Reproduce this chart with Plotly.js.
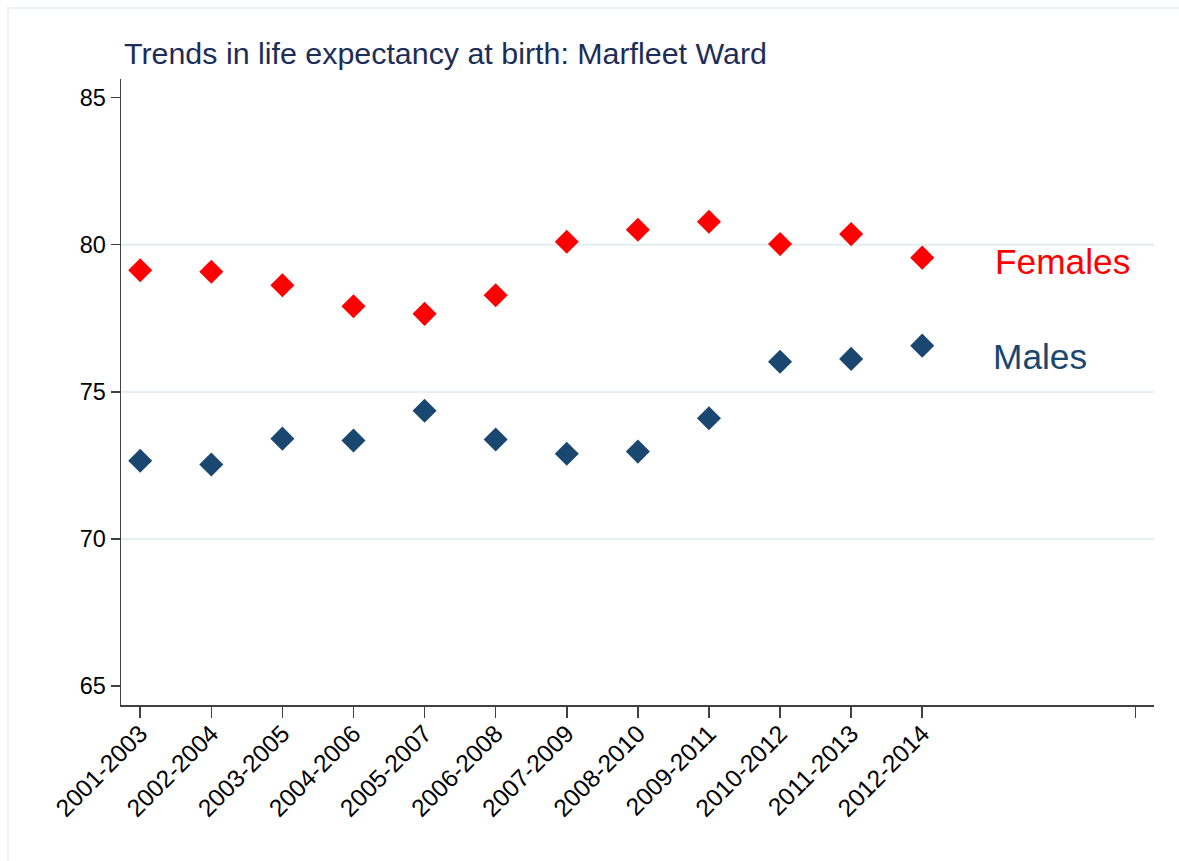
<!DOCTYPE html>
<html>
<head>
<meta charset="utf-8">
<script src="https://cdn.plot.ly/plotly-3.0.1.min.js"></script>
<style>
  html, body { margin: 0; padding: 0; background: #ffffff; overflow: hidden; }
  #wrap { position: relative; width: 1179px; height: 861px; }
  #chart { position: absolute; left: 0; top: 0; width: 1179px; height: 861px; }
  #frame { position: absolute; left: 7px; top: 7px; width: 1190px; height: 880px;
           border: 2px solid #EAF2F3; pointer-events: none; box-sizing: border-box; }
</style>
</head>
<body>
<div id="wrap">
  <div id="chart"></div>
  <div id="frame"></div>
</div>
<script>
// ---- data ----
const periods = ["2001-2003","2002-2004","2003-2005","2004-2006","2005-2007","2006-2008",
                 "2007-2009","2008-2010","2009-2011","2010-2012","2011-2013","2012-2014"];
const females = [79.13, 79.08, 78.62, 77.91, 77.65, 78.28, 80.10, 80.51, 80.78, 80.02, 80.36, 79.56];
const males   = [72.66, 72.53, 73.41, 73.35, 74.36, 73.38, 72.90, 72.97, 74.10, 76.02, 76.12, 76.57];
const seriesNames = ["Females", "Males"];
const yTicks = [65, 70, 75, 80, 85];
const gridVals = [70, 75, 80];
const chartTitle = "Trends in life expectancy at birth: Marfleet Ward";

// ---- build ----
const xIdx = periods.map((p, i) => i);
const extraTick = periods.length + 2;           // empty tick at the far end of the axis
const tickVals = xIdx.concat([extraTick]);
const tickText = periods.concat([""]);

const RED = "#FF0000";
const NAVY = "#1A476F";
const FONT = "Liberation Sans, Arial, sans-serif";

const traces = [
  { x: xIdx, y: females, name: seriesNames[0], type: "scatter", mode: "markers",
    marker: { symbol: "diamond", size: 18.5, color: RED }, hoverinfo: "x+y" },
  { x: xIdx, y: males, name: seriesNames[1], type: "scatter", mode: "markers",
    marker: { symbol: "diamond", size: 18.5, color: NAVY }, hoverinfo: "x+y" }
];

const shapes = gridVals.map(v => ({
  type: "line", xref: "paper", yref: "y", x0: 0, x1: 1, y0: v, y1: v,
  line: { color: "#E6F0F2", width: 2.4 }, layer: "below"
}));

const layout = {
  width: 1179, height: 861,
  margin: { l: 121, r: 25, t: 79, b: 156, pad: 0 },
  paper_bgcolor: "#ffffff", plot_bgcolor: "#ffffff",
  showlegend: false,
  font: { family: FONT, color: "#000000", size: 24 },
  title: { text: chartTitle, x: 0, xref: "paper", xanchor: "left",
           y: 1, yref: "container", yanchor: "top", pad: { t: 43, l: 3 },
           font: { family: FONT, size: 30.4, color: "#1E2D57" } },
  xaxis: {
    range: [-0.27, 14.26], showgrid: false, zeroline: false,
    showline: true, linecolor: "#404040", linewidth: 1.5,
    tickmode: "array", tickvals: tickVals, ticktext: tickText,
    ticks: "outside", ticklen: 11, tickwidth: 1.5, tickcolor: "#404040",
    ticklabelstandoff: -8,
    tickangle: -45, tickfont: { family: FONT, size: 24.5, color: "#000000" }
  },
  yaxis: {
    range: [64.36, 85.63], showgrid: false, zeroline: false,
    showline: true, linecolor: "#404040", linewidth: 1.5,
    tickmode: "array", tickvals: yTicks,
    ticks: "outside", ticklen: 9, tickwidth: 1.5, tickcolor: "#404040",
    tickfont: { family: FONT, size: 23.5, color: "#000000" }
  },
  shapes: shapes,
  annotations: [
    { text: seriesNames[0], xref: "x", yref: "y", x: 12.0, y: 79.43,
      xanchor: "left", yanchor: "middle", showarrow: false,
      font: { family: FONT, size: 35.3, color: RED } },
    { text: seriesNames[1], xref: "x", yref: "y", x: 11.97, y: 76.2,
      xanchor: "left", yanchor: "middle", showarrow: false,
      font: { family: FONT, size: 35.3, color: NAVY } }
  ]
};

Plotly.newPlot("chart", traces, layout, { displayModeBar: false, staticPlot: true });
</script>
</body>
</html>
